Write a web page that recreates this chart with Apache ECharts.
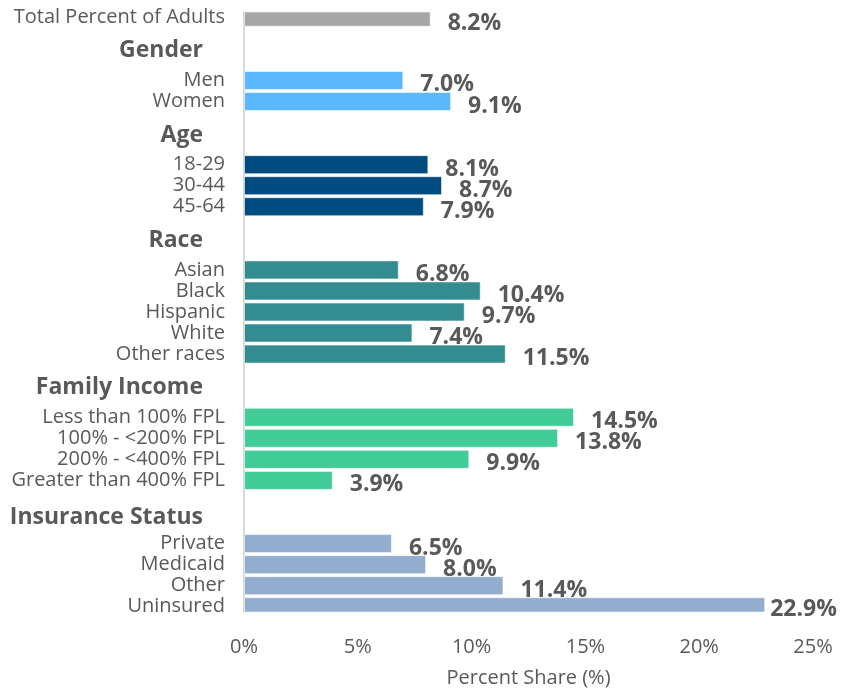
<!DOCTYPE html>
<html>
<head>
<meta charset="utf-8">
<script src="https://cdn.jsdelivr.net/npm/echarts@6/dist/echarts.min.js"></script>
<style>
  html, body { margin: 0; padding: 0; background: #fff; }
  #chart { width: 844px; height: 690px; }
</style>
</head>
<body>
<div id="chart"></div>
<script>
// values
const totalLabels = ['Total Percent of Adults'];
const totalValues = [8.2];
const genderLabels = ['Men', 'Women'];
const genderValues = [7.0, 9.1];
const ageLabels = ['18-29', '30-44', '45-64'];
const ageValues = [8.1, 8.7, 7.9];
const raceLabels = ['Asian', 'Black', 'Hispanic', 'White', 'Other races'];
const raceValues = [6.8, 10.4, 9.7, 7.4, 11.5];
const incomeLabels = ['Less than 100% FPL', '100% - <200% FPL', '200% - <400% FPL', 'Greater than 400% FPL'];
const incomeValues = [14.5, 13.8, 9.9, 3.9];
const insuranceLabels = ['Private', 'Medicaid', 'Other', 'Uninsured'];
const insuranceValues = [6.5, 8.0, 11.4, 22.9];
const xTicks = [0, 5, 10, 15, 20, 25];

// rows on a half-row grid: bars sit on even slots, group titles in between
const sections = [
  { title: null, titleSlot: 0, first: 0, labels: totalLabels, values: totalValues, color: '#a6a6a6' },
  { title: 'Gender', titleSlot: 3, first: 6, labels: genderLabels, values: genderValues, color: '#5cb8fc' },
  { title: 'Age', titleSlot: 11, first: 14, labels: ageLabels, values: ageValues, color: '#004b80' },
  { title: 'Race', titleSlot: 21, first: 24, labels: raceLabels, values: raceValues, color: '#338d90' },
  { title: 'Family Income', titleSlot: 35, first: 38, labels: incomeLabels, values: incomeValues, color: '#42cc97' },
  { title: 'Insurance Status', titleSlot: 47, first: 50, labels: insuranceLabels, values: insuranceValues, color: '#93adcf', shift: true }
];

const nSlots = 57;
const slotKeys = [];
const slotText = [];
const barData = [];
for (let i = 0; i < nSlots; i++) {
  slotKeys.push('r' + i);
  slotText.push('');
  barData.push('-');
}
sections.forEach(s => {
  if (s.title) slotText[s.titleSlot] = (s.shift ? '{h2|' : '{h|') + s.title + '}';
  s.labels.forEach((lab, k) => {
    const slot = s.first + k * 2;
    slotText[slot] = lab;
    const item = { value: s.values[k], itemStyle: { color: s.color } };
    if (s.values[k] > 20) item.label = { distance: 5 };
    barData[slot] = item;
  });
});

const font = "'Open Sans', sans-serif";
const myChart = echarts.init(document.getElementById('chart'));
myChart.setOption({
  animation: false,
  grid: { left: 244, right: 31, top: 12, bottom: 78, containLabel: false, outerBoundsMode: 'none' },
  xAxis: {
    type: 'value',
    min: 0,
    max: 25,
    interval: 5,
    axisLine: { show: false },
    axisTick: { show: false },
    splitLine: { show: false },
    axisLabel: {
      margin: 25,
      color: '#595959',
      fontFamily: font,
      fontSize: 20,
      formatter: v => xTicks.indexOf(v) >= 0 ? v + '%' : ''
    },
    name: 'Percent Share (%)',
    nameLocation: 'middle',
    nameGap: 56,
    nameTextStyle: { color: '#595959', fontFamily: font, fontSize: 20 }
  },
  yAxis: {
    type: 'category',
    inverse: true,
    data: slotKeys,
    axisLine: { show: true, lineStyle: { color: '#d9d9d9', width: 2 } },
    axisTick: { show: false },
    axisLabel: {
      interval: 0,
      margin: 19,
      color: '#595959',
      fontFamily: font,
      fontSize: 20,
      formatter: (v, i) => slotText[i],
      rich: {
        h: { fontFamily: font, fontSize: 23, fontWeight: 'bold', color: '#595959', padding: [4, 22, 0, 0] },
        h2: { fontFamily: font, fontSize: 23, fontWeight: 'bold', color: '#595959', padding: [11, 22, 0, 0] }
      }
    }
  },
  series: [{
    type: 'bar',
    data: barData,
    barWidth: 19,
    itemStyle: { borderColor: 'rgba(255,255,255,0.55)', borderWidth: 1 },
    label: {
      show: true,
      position: 'right',
      distance: 17,
      offset: [0, 4.5],
      color: '#595959',
      fontFamily: font,
      fontSize: 23,
      fontWeight: 'bold',
      formatter: p => p.value.toFixed(1) + '%'
    }
  }]
});
</script>
</body>
</html>
